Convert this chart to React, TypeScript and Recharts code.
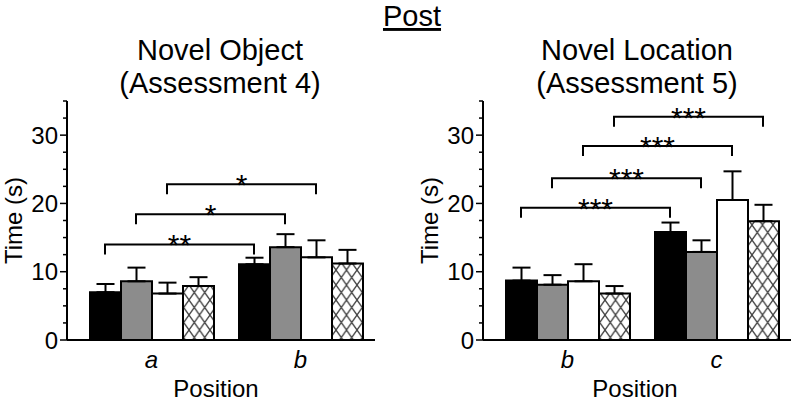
import { Bar, BarChart, ErrorBar, ReferenceLine, XAxis, YAxis } from "recharts"

const FONT = '"Liberation Sans", Arial, Helvetica, sans-serif'

// four groups, drawn left to right inside each position
const SERIES = ["black", "gray", "white", "hatch"]
const FILLS = ["#000000", "#8c8c8c", "#ffffff", "url(#crosshatch)"]

const Y_TICKS = [0, 2.5, 5, 7.5, 10, 12.5, 15, 17.5, 20, 22.5, 25, 27.5, 30, 32.5, 35]

// Novel Object (Assessment 4)
const OBJECT_POSITIONS = ["a", "b"]
const OBJECT_MEANS = [
  [7.0, 11.1],
  [8.6, 13.6],
  [6.8, 12.1],
  [7.9, 11.2],
]
const OBJECT_ERRS = [
  [1.2, 0.95],
  [2.0, 1.9],
  [1.6, 2.5],
  [1.3, 2.0],
]
const OBJECT_BRACKET_SERIES = [0, 1, 2]
const OBJECT_BRACKET_Y = [14.0, 18.4, 22.8]
const OBJECT_BRACKET_STARS = ["**", "*", "*"]

// Novel Location (Assessment 5)
const LOCATION_POSITIONS = ["b", "c"]
const LOCATION_MEANS = [
  [8.7, 15.8],
  [8.1, 12.9],
  [8.6, 20.5],
  [6.8, 17.4],
]
const LOCATION_ERRS = [
  [1.9, 1.4],
  [1.4, 1.7],
  [2.5, 4.2],
  [1.1, 2.4],
]
const LOCATION_BRACKET_SERIES = [0, 1, 2, 3]
const LOCATION_BRACKET_Y = [19.35, 23.7, 28.4, 32.7]
const LOCATION_BRACKET_STARS = ["***", "***", "***", "***"]

const BAR_SIZE = 31
const DROP = 10

function buildRows(positions: string[], means: number[][], errs: number[][]) {
  return positions.map((p, i) => {
    const row: any = { position: p }
    SERIES.forEach((s, k) => {
      row[s] = means[k][i]
      // one-sided (upward) SEM
      row[s + "Err"] = [0, errs[k][i]]
    })
    return row
  })
}

const YTick = (props: any) => {
  const { x, y, payload } = props
  const major = payload.value % 10 === 0
  return (
    <g>
      <line x1={x - (major ? 7 : 4)} x2={x} y1={y} y2={y} stroke="#000" strokeWidth={1.5} />
      {major && (
        <text x={x - 9} y={y} dy="0.36em" textAnchor="end" fontSize={24} fill="#000">
          {payload.value}
        </text>
      )}
    </g>
  )
}

// bracket between the same series in both positions, shifted from the band centre
const bracketShape = (seriesIndex: number, stars: string) => (props: any) => {
  const { x1, y1, x2 } = props
  const shift = (seriesIndex - 1.5) * BAR_SIZE
  const a = x1 + shift
  const b = x2 + shift
  return (
    <g>
      <path
        d={`M${a},${y1 + DROP}V${y1}H${b}V${y1 + DROP}`}
        fill="none"
        stroke="#000"
        strokeWidth={2}
      />
      <text x={(a + b) / 2} y={y1 + 11} textAnchor="middle" fontSize={30} fill="#000">
        {stars}
      </text>
    </g>
  )
}

interface PanelProps {
  positions: string[]
  means: number[][]
  errs: number[][]
  bracketSeries: number[]
  bracketY: number[]
  bracketStars: string[]
  width: number
  marginRight: number
  labelShift: number
}

function Panel({ positions, means, errs, bracketSeries, bracketY, bracketStars, width, marginRight, labelShift }: PanelProps) {
  const rows = buildRows(positions, means, errs)
  return (
    <BarChart
      width={width}
      height={403}
      data={rows}
      margin={{ top: 101, right: marginRight, left: 17, bottom: 0 }}
      barSize={BAR_SIZE}
      barGap={0}
    >
      <XAxis
        dataKey="position"
        height={63}
        padding={{ left: 10, right: 0 }}
        tickLine={false}
        tickSize={0}
        tickMargin={11}
        axisLine={{ stroke: "#000", strokeWidth: 2 }}
        tick={{ fill: "#000", fontSize: 24, fontStyle: "italic" }}
        label={{ value: "Position", position: "insideBottom", offset: 6, dx: labelShift, fill: "#000", fontSize: 24 }}
      />
      <YAxis
        type="number"
        domain={[0, 35]}
        ticks={Y_TICKS}
        interval={0}
        width={50}
        tickSize={0}
        tickMargin={0}
        tickLine={false}
        axisLine={{ stroke: "#000", strokeWidth: 2 }}
        tick={<YTick />}
        label={{
          value: "Time (s)",
          angle: -90,
          position: "insideLeft",
          offset: -4,
          fill: "#000",
          fontSize: 24,
          style: { textAnchor: "middle" },
        }}
      />
      {SERIES.map((s, k) => (
        <Bar key={s} dataKey={s} fill={FILLS[k]} stroke="#000" strokeWidth={2} isAnimationActive={false}>
          <ErrorBar dataKey={s + "Err"} direction="y" width={9} stroke="#000" strokeWidth={2} />
        </Bar>
      ))}
      {bracketY.map((y, i) => (
        <ReferenceLine
          key={i}
          segment={[
            { x: positions[0], y },
            { x: positions[1], y },
          ]}
          ifOverflow="visible"
          shape={bracketShape(bracketSeries[i], bracketStars[i])}
        />
      ))}
    </BarChart>
  )
}

export default function App() {
  return (
    <div
      style={{
        position: "absolute",
        left: 0,
        top: 0,
        width: 793,
        height: 403,
        background: "#fff",
        fontFamily: FONT,
      }}
    >
      <svg width={0} height={0} style={{ position: "absolute" }}>
        <defs>
          <pattern id="crosshatch" patternUnits="userSpaceOnUse" width={10.5} height={15}>
            <rect width={10.5} height={15} fill="#fff" />
            <path d="M0,0L10.5,15M10.5,0L0,15" stroke="#444" strokeWidth={1.3} />
          </pattern>
        </defs>
      </svg>
      <div style={{ position: "absolute", left: 0, top: 0 }}>
        <Panel
          positions={OBJECT_POSITIONS}
          means={OBJECT_MEANS}
          errs={OBJECT_ERRS}
          bracketSeries={OBJECT_BRACKET_SERIES}
          bracketY={OBJECT_BRACKET_Y}
          bracketStars={OBJECT_BRACKET_STARS}
          width={390}
          marginRight={15}
          labelShift={-5}
        />
      </div>
      <div style={{ position: "absolute", left: 416, top: 0 }}>
        <Panel
          positions={LOCATION_POSITIONS}
          means={LOCATION_MEANS}
          errs={LOCATION_ERRS}
          bracketSeries={LOCATION_BRACKET_SERIES}
          bracketY={LOCATION_BRACKET_Y}
          bracketStars={LOCATION_BRACKET_STARS}
          width={377}
          marginRight={2}
          labelShift={-2}
        />
      </div>
      <svg width={793} height={110} style={{ position: "absolute", left: 0, top: 0, pointerEvents: "none" }}>
        <text x={412} y={26} textAnchor="middle" fontSize={29} fill="#000" textDecoration="underline">
          Post
        </text>
        <text x={220} y={60} textAnchor="middle" fontSize={29} fill="#000">
          Novel Object
        </text>
        <text x={220} y={93} textAnchor="middle" fontSize={29} fill="#000">
          (Assessment 4)
        </text>
        <text x={637} y={60} textAnchor="middle" fontSize={29} fill="#000">
          Novel Location
        </text>
        <text x={637} y={93} textAnchor="middle" fontSize={29} fill="#000">
          (Assessment 5)
        </text>
      </svg>
    </div>
  )
}
